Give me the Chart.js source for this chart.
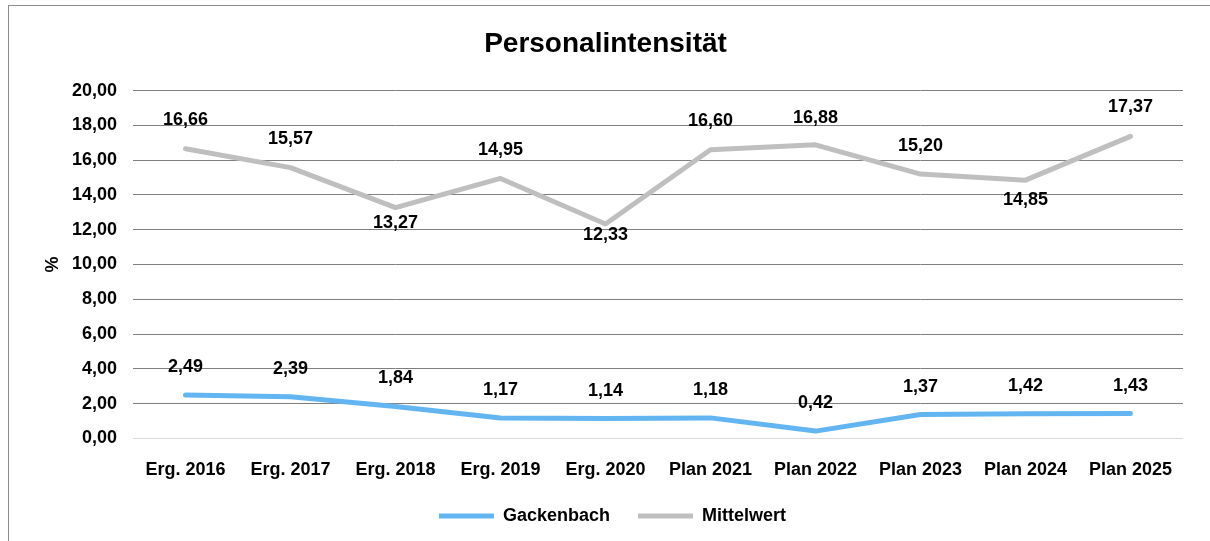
<!DOCTYPE html>
<html>
<head>
<meta charset="utf-8">
<script src="https://cdn.jsdelivr.net/npm/chart.js@4.4.1/dist/chart.umd.min.js"></script>
<style>
  html, body { margin: 0; padding: 0; background: #fff; overflow: hidden; }
  #wrap { position: relative; width: 1210px; height: 541px; overflow: hidden; }
  #frame { position: absolute; left: 8px; top: 5px; width: 1400px; height: 800px; border: 1px solid #8c8c8c; box-sizing: border-box; }
  canvas { position: absolute; left: 0; top: 0; }
</style>
</head>
<body>
<div id="wrap">
  <div id="frame"></div>
  <canvas id="c" width="1210" height="541"></canvas>
</div>
<script>
const categories = ['Erg. 2016','Erg. 2017','Erg. 2018','Erg. 2019','Erg. 2020','Plan 2021','Plan 2022','Plan 2023','Plan 2024','Plan 2025'];
const gackenbach = [2.49, 2.39, 1.84, 1.17, 1.14, 1.18, 0.42, 1.37, 1.42, 1.43];
const mittelwert = [16.66, 15.57, 13.27, 14.95, 12.33, 16.60, 16.88, 15.20, 14.85, 17.37];
const yTicks = { min: 0, max: 20, step: 2 };

// vertical offsets of the value labels (px, negative = above the point)
const labelOffsets = [
  [-28, -28, -28, -28, -28, -28, -28, -28, -28, -28],
  [-29, -29, 15, -28, 11, -29, -27, -28, 20, -29]
];

const FONT = "'Liberation Sans', Arial, sans-serif";
const fmt = v => v.toFixed(2).replace('.', ',');

const valueLabels = {
  id: 'valueLabels',
  afterLayout(chart) {
    if (chart.titleBlock) { chart.titleBlock.left -= 7; chart.titleBlock.right -= 7; }
  },
  afterDatasetsDraw(chart) {
    const ctx = chart.ctx;
    ctx.save();
    ctx.font = 'bold 18px ' + FONT;
    ctx.fillStyle = '#000';
    ctx.textAlign = 'center';
    ctx.textBaseline = 'middle';
    chart.data.datasets.forEach((ds, di) => {
      const meta = chart.getDatasetMeta(di);
      meta.data.forEach((pt, i) => {
        ctx.fillText(fmt(ds.data[i]), pt.x, pt.y + labelOffsets[di][i]);
      });
    });
    ctx.restore();
  }
};

new Chart(document.getElementById('c'), {
  type: 'line',
  data: {
    labels: categories,
    datasets: [
      { label: 'Gackenbach', data: gackenbach, borderColor: '#63b5f1', backgroundColor: '#63b5f1', borderWidth: 5, pointRadius: 0, tension: 0, borderCapStyle: 'round', borderJoinStyle: 'round' },
      { label: 'Mittelwert', data: mittelwert, borderColor: '#bfbfbf', backgroundColor: '#bfbfbf', borderWidth: 5, pointRadius: 0, tension: 0, borderCapStyle: 'round', borderJoinStyle: 'round' }
    ]
  },
  options: {
    responsive: false,
    animation: false,
    layout: { padding: { left: 42, right: 27, top: 0, bottom: 6 } },
    plugins: {
      title: {
        display: true, text: 'Personalintensität', color: '#000',
        font: { family: FONT, size: 28, weight: 'bold' },
        padding: { top: 27, bottom: 30 }
      },
      legend: {
        position: 'bottom',
        labels: {
          color: '#000', font: { family: FONT, size: 18, weight: 'bold' },
          boxWidth: 55, boxHeight: 5, padding: 28,
          generateLabels: chart => Chart.defaults.plugins.legend.labels.generateLabels(chart).map(it => Object.assign(it, { lineWidth: 0, strokeStyle: 'transparent' }))
        }
      },
      tooltip: { enabled: false }
    },
    scales: {
      x: {
        offset: true,
        grid: { display: false, drawTicks: false },
        border: { display: false },
        ticks: { color: '#000', font: { family: FONT, size: 18, weight: 'bold' }, padding: 21, maxRotation: 0, autoSkip: false },
        afterFit: s => { s.height = s.height - 23; }
      },
      y: {
        min: yTicks.min, max: yTicks.max,
        grid: { drawTicks: false, color: ctx => ctx.tick.value === 0 ? '#d9d9d9' : '#7f7f7f', lineWidth: 1 },
        border: { display: false },
        ticks: { stepSize: yTicks.step, color: '#000', font: { family: FONT, size: 18, weight: 'bold' }, padding: 16, callback: v => fmt(v) },
        title: { display: true, text: '%', color: '#000', font: { family: FONT, size: 18, weight: 'bold' }, padding: { top: 0, bottom: 0 } },
        afterFit: s => { s.width = 91; }
      }
    }
  },
  plugins: [valueLabels]
});
</script>
</body>
</html>
